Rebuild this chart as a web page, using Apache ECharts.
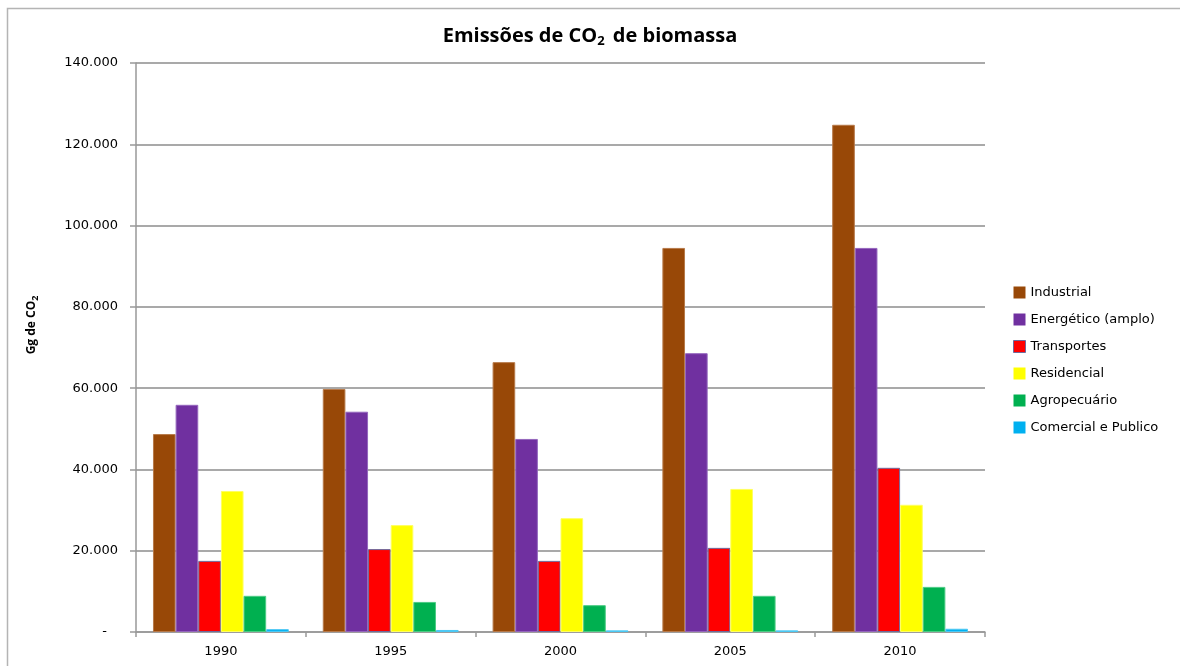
<!DOCTYPE html>
<html>
<head>
<meta charset="utf-8">
<script src="https://cdn.jsdelivr.net/npm/echarts@6/dist/echarts.min.js"></script>
<style>
  html, body { margin: 0; padding: 0; background: #fff; }
  #chart { width: 1180px; height: 666px; }
</style>
</head>
<body>
<div id="chart"></div>
<script>
// Years on the category axis
const years = ['1990', '1995', '2000', '2005', '2010'];

// Emissions by sector, Gg de CO2
const industrial   = [48700, 59800, 66400, 94500, 124800];
const energetico   = [55900, 54200, 47500, 68600, 94500];
const transportes  = [17500, 20400, 17500, 20700, 40400];
const residencial  = [34700, 26300, 28000, 35200, 31300];
const agropecuario = [8900, 7400, 6600, 8900, 11100];
const comercial    = [700, 500, 400, 400, 800];

// Y axis ticks
const yTicks = [0, 20000, 40000, 60000, 80000, 100000, 120000, 140000];

const sectorNames = ['Industrial', 'Energético (amplo)', 'Transportes', 'Residencial', 'Agropecuário', 'Comercial e Publico'];
const sectorValues = [industrial, energetico, transportes, residencial, agropecuario, comercial];
const sectorColors = ['#984807', '#7030A0', '#FF0000', '#FFFF00', '#00B050', '#00B0F0'];
const sectorBorders = ['#b77a4a', '#9466bd', '#6f6a9c', '#ffff60', '#4ccb84', '#4cc8f4'];

const fmt = v => v === 0 ? '{dash|-}' : String(v).replace(/\B(?=(\d{3})+(?!\d))/g, '.');

const chart = echarts.init(document.getElementById('chart'), null, { renderer: 'canvas' });

chart.setOption({
  backgroundColor: '#fff',
  animation: false,
  title: {
    text: 'Emissões de CO{sub|2} de biomassa',
    left: 'center',
    top: 20,
    textStyle: {
      fontFamily: 'Open Sans',
      fontSize: 20,
      fontWeight: 'bold',
      color: '#000',
      rich: {
        sub: { fontFamily: 'Open Sans', fontSize: 13, fontWeight: 'bold', padding: [10, 3, 0, 0], color: '#000' }
      }
    }
  },
  legend: {
    orient: 'vertical',
    left: 1013,
    top: 284,
    padding: 0,
    itemWidth: 12,
    itemHeight: 12,
    itemGap: 10,
    icon: 'rect',
    itemStyle: { borderWidth: 0 },
    textStyle: { fontFamily: 'DejaVu Sans', fontSize: 13, color: '#000', lineHeight: 17 },
    data: sectorNames.map((n, i) => i === 2
      ? { name: n, itemStyle: { borderColor: '#6f6a9c', borderWidth: 1 } }
      : { name: n })
  },
  graphic: [{
    type: 'polyline',
    shape: { points: [[7.5, 700], [7.5, 8.5], [1200, 8.5]] },
    style: { fill: null, stroke: '#b4b4b4', lineWidth: 1.5 },
    silent: true
  }, {
    type: 'text',
    x: 32,
    y: 325,
    rotation: Math.PI / 2,
    style: {
      text: 'Gg de CO{sub|2}',
      fontFamily: 'Open Sans',
      fontSize: 12,
      fontWeight: 'bold',
      fill: '#000',
      align: 'center',
      verticalAlign: 'middle',
      rich: {
        sub: { fontFamily: 'Open Sans', fontSize: 9, fontWeight: 'bold', padding: [6, 0, 0, 0], fill: '#000' }
      }
    },
    silent: true
  }],
  grid: { left: 136, right: 195, top: 63, bottom: 34 },
  xAxis: {
    type: 'category',
    data: years,
    axisLine: { lineStyle: { color: '#999', width: 1.5 } },
    axisTick: { show: true, alignWithLabel: false, length: 5, lineStyle: { color: '#999', width: 1.5 } },
    axisLabel: { fontFamily: 'DejaVu Sans', fontSize: 13, color: '#000', margin: 13 }
  },
  yAxis: {
    type: 'value',
    min: 0,
    max: yTicks[yTicks.length - 1],
    interval: yTicks[1] - yTicks[0],
    axisLine: { show: true, lineStyle: { color: '#999', width: 1.5 } },
    axisTick: { show: true, length: 6, lineStyle: { color: '#999', width: 1.5 } },
    splitLine: { show: true, lineStyle: { color: '#8c8c8c', width: 1.5 } },
    axisLabel: {
      fontFamily: 'DejaVu Sans',
      fontSize: 13,
      color: '#000',
      margin: 18,
      formatter: fmt,
      rich: { dash: { fontFamily: 'DejaVu Sans', fontSize: 13, color: '#000', padding: [0, 11, 0, 0] } }
    }
  },
  series: sectorNames.map((name, i) => ({
    name: name,
    type: 'bar',
    data: sectorValues[i],
    barGap: '0%',
    barCategoryGap: '20%',
    itemStyle: { color: sectorColors[i], borderColor: sectorBorders[i], borderWidth: 1 }
  }))
});
</script>
</body>
</html>
